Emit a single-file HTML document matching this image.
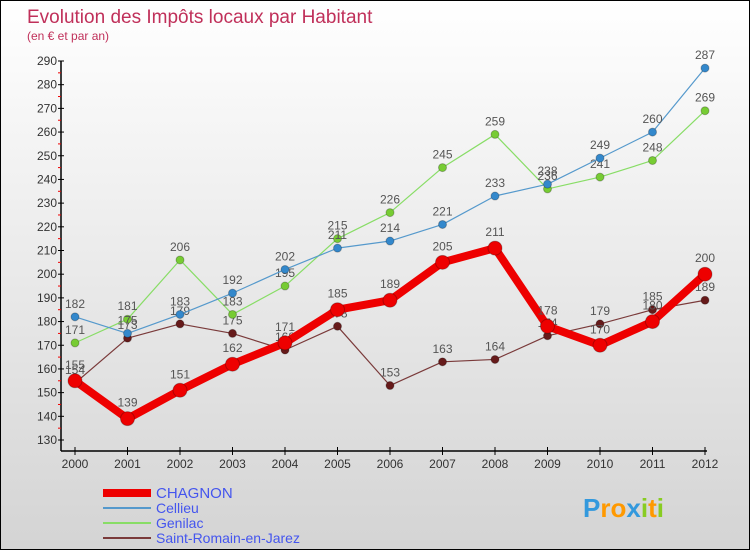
<!DOCTYPE html>
<html><head><meta charset="utf-8"><style>
body{margin:0}
#c{width:748px;height:548px;border:1px solid #000;background:linear-gradient(#fff,#d4d4d4);position:relative;font-family:"Liberation Sans",sans-serif;overflow:hidden}
</style></head><body>
<div id="c">
<svg id="s" width="748" height="548"></svg>
</div>
<script>
const years=["2000","2001","2002","2003","2004","2005","2006","2007","2008","2009","2010","2011","2012"];
const chagnon=[155,139,151,162,171,185,189,205,211,178,170,180,200];
const cellieu=[182,175,183,192,202,211,214,221,233,238,249,260,287];
const genilac=[171,181,206,183,195,215,226,245,259,236,241,248,269];
const stromain=[154,173,179,175,168,178,153,163,164,174,179,185,189];
const yTicks=[130,140,150,160,170,180,190,200,210,220,230,240,250,260,270,280,290];
const NS="http://www.w3.org/2000/svg";
const s=document.getElementById('s');
function X(i){return 74+i*52.5;}
function Y(v){return 439-(v-130)*(379/160);}
function el(t,a,p){const e=document.createElementNS(NS,t);for(const k in a)e.setAttribute(k,a[k]);(p||s).appendChild(e);return e;}
function tx(x,y,str,a){const e=el('text',Object.assign({x:x,y:y},a));e.textContent=str;return e;}
let t=tx(26,22,"Evolution des Impôts locaux par Habitant",{fill:"#c0305a","font-size":19});

t=tx(26,39,"(en € et par an)",{fill:"#c0305a","font-size":12});

// axes
let ax=el('line',{x1:60,y1:60,x2:60,y2:450,stroke:"#000","stroke-width":1.5});

ax=el('line',{x1:60,y1:450,x2:706,y2:450,stroke:"#000","stroke-width":1.5});

yTicks.forEach((v,i)=>{
  el('line',{x1:57,x2:63,y1:Y(v),y2:Y(v),stroke:"#000"});
  if(i<yTicks.length-1)el('line',{x1:57,x2:60,y1:Y(v+5),y2:Y(v+5),stroke:"#e00"});
  const l=tx(56,Y(v)+4,String(v),{"text-anchor":"end","font-size":12,fill:"#333"});
  
});
years.forEach((y,i)=>{
  el('line',{x1:X(i),x2:X(i),y1:446,y2:454,stroke:"#000"});
  const l=tx(X(i),467,y,{"text-anchor":"middle","font-size":12,fill:"#333"});
  
});
function series(data,color,dot,w,r,name){
  const g=el('g',{});
  
  el('polyline',{points:data.map((v,i)=>X(i)+","+Y(v)).join(" "),fill:"none",stroke:color,"stroke-width":w,"stroke-linejoin":"round"},g);
  data.forEach((v,i)=>{
    const c=el('circle',{cx:X(i),cy:Y(v),r:r,fill:dot,stroke:"rgba(0,0,0,0.25)"},g);
    
    const l=tx(X(i),Y(v)-8-(r-3),String(v),{"text-anchor":"middle","font-size":12,fill:"#555"},g);
    
  });
}
series(stromain,"#7a3a3a","#661a1a",1.2,4,"saint-romain");
series(genilac,"#88dd66","#77cc33",1.2,4,"genilac");
series(cellieu,"#5599cc","#3388cc",1.2,4,"cellieu");
series(chagnon,"#ee0000","#ee0000",8,7,"chagnon");
// legend
const leg=[["CHAGNON","#ee0000",8],["Cellieu","#5599cc",2],["Genilac","#88dd66",2],["Saint-Romain-en-Jarez","#7a3a3a",2]];
leg.forEach((d,i)=>{
  const y=492+i*15;
  const g=el('g',{});
  el('line',{x1:102,x2:150,y1:y,y2:y,stroke:d[1],"stroke-width":d[2]},g);
  tx(155,y+5,d[0],{"font-size":i==0?15:14,fill:"#4455ee"},g);
});
const lg=tx(582,516,"",{"font-size":26,"font-weight":"bold"});

[["P","#3399dd"],["r","#ff9900"],["o","#ff9900"],["x","#3399dd"],["i","#88cc22"],["t","#ff9900"],["i","#88cc22"]].forEach(c=>{const sp=el('tspan',{fill:c[1]},lg);sp.textContent=c[0];});
</script>
</body></html>
